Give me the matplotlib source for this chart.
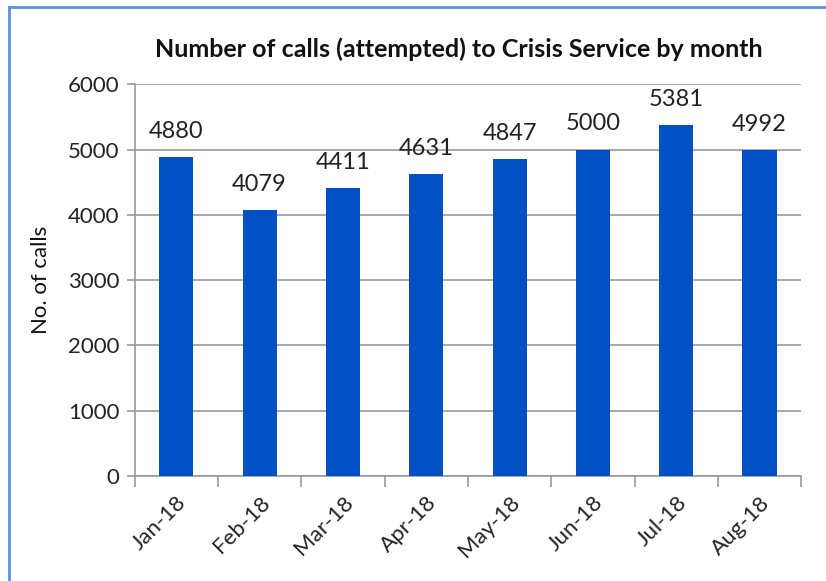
import matplotlib.pyplot as plt
from matplotlib.lines import Line2D
import numpy as np

months = ["Jan-18", "Feb-18", "Mar-18", "Apr-18", "May-18", "Jun-18", "Jul-18", "Aug-18"]
calls = [4880, 4079, 4411, 4631, 4847, 5000, 5381, 4992]

plt.rcParams['font.family'] = ['Lato', 'DejaVu Sans']

fig = plt.figure(figsize=(8.26, 5.81), dpi=100)
ax = fig.add_axes([0.163, 0.181, 0.807, 0.674])

x = np.arange(len(months))
ax.bar(x, calls, width=0.41, color="#0050c4", zorder=3)

# value labels above bars
for xi, v in zip(x, calls):
    ax.text(xi, v + 230, str(v), ha="center", va="bottom", fontsize=17, color="#222222")

ax.set_xlim(-0.5, len(months) - 0.5)
ax.set_ylim(0, 6000)
ax.set_yticks(range(0, 6001, 1000))
ax.yaxis.grid(True, color="#9a9a9a", linewidth=1.2, zorder=0)

# category ticks sit between the bars
ax.set_xticks(x)
ax.set_xticklabels(months, rotation=45, ha="right", rotation_mode="anchor", fontsize=16, color="#222222")
ax.tick_params(axis="x", length=0, pad=12)
ax.set_xticks(np.arange(-0.5, len(months)), minor=True)
ax.tick_params(axis="x", which="minor", length=8, color="#9a9a9a", width=1.2)
ax.tick_params(axis="y", length=6, color="#9a9a9a", width=1.2, labelsize=16, labelcolor="#222222", pad=5)

for side in ["top", "right"]:
    ax.spines[side].set_visible(False)
for side in ["left", "bottom"]:
    ax.spines[side].set_color("#9a9a9a")
    ax.spines[side].set_linewidth(1.2)

ax.set_ylabel("No. of calls", fontsize=16, color="#111111", labelpad=12)
fig.text(0.555, 0.915, "Number of calls (attempted) to Crisis Service by month",
         ha="center", va="center", fontsize=18, fontweight="bold", color="#111111")

# light blue frame (top and left only visible)
fig.add_artist(Line2D([9 / 826, 9 / 826], [0, 1 - 7 / 581], transform=fig.transFigure, color="#5b8fe0", linewidth=2))
fig.add_artist(Line2D([9 / 826, 1], [1 - 7 / 581, 1 - 7 / 581], transform=fig.transFigure, color="#5b8fe0", linewidth=2))

fig.savefig("out.png", dpi=100)
